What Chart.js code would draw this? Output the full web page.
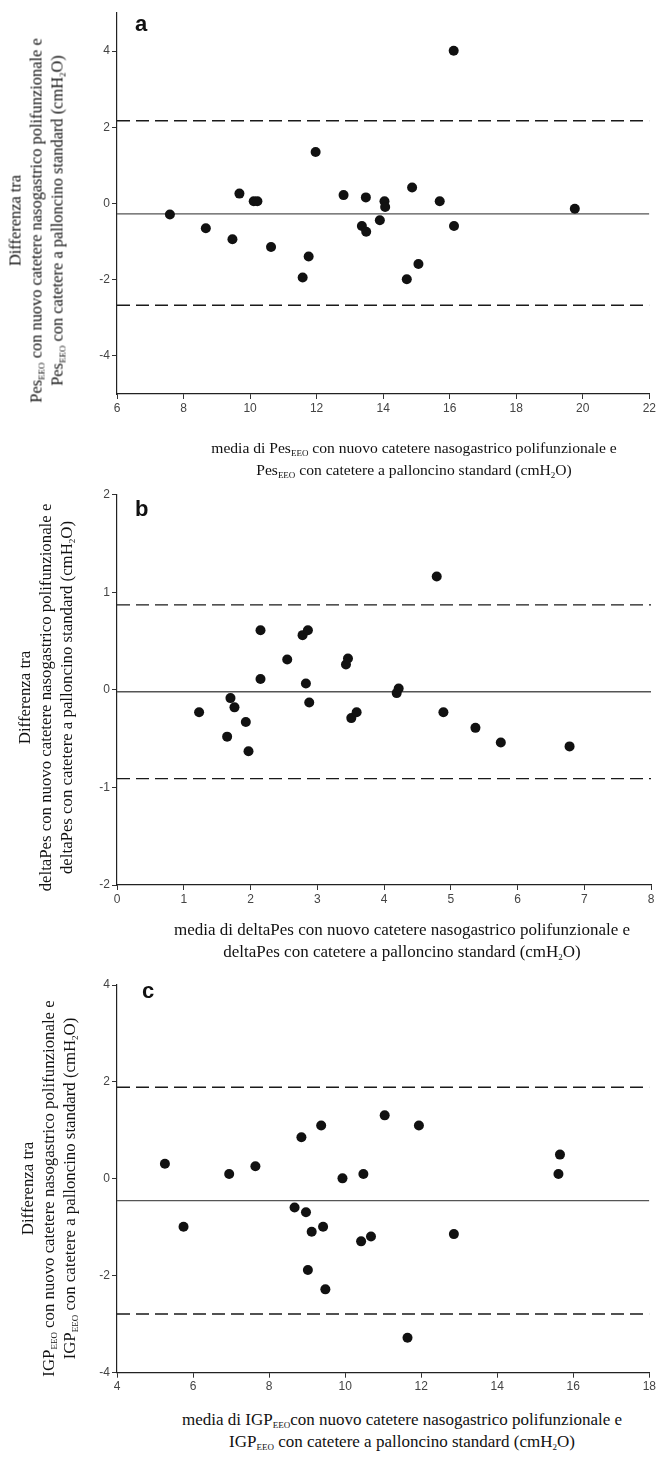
<!DOCTYPE html>
<html>
<head>
<meta charset="utf-8">
<script src="https://cdn.jsdelivr.net/npm/chart.js@4.4.1/dist/chart.umd.min.js"></script>
<style>
  body { margin: 0; background: #fff; }
  #page { position: relative; width: 658px; height: 1457px; overflow: hidden; }
  canvas { position: absolute; }
  .ttl { position: absolute; font-family: "Liberation Serif", "Times New Roman", serif;
         font-size: 16px; color: #111; text-align: center; white-space: nowrap; }
  .ttl div { line-height: 21px; height: 21px; }
  .xt div { line-height: 22px; height: 22px; }
  .ttl sub { font-size: 9px; vertical-align: -3px; line-height: 0; }
  .rot { transform: rotate(-90deg); }
  .letter { position: absolute; font-family: "Liberation Sans", Arial, sans-serif;
            font-weight: bold; font-size: 22px; color: #111; }
</style>
</head>
<body>
<div id="page">
  <canvas id="chartA" width="598" height="420" style="left:60px;top:0px"></canvas>
  <canvas id="chartB" width="598" height="430" style="left:60px;top:480px"></canvas>
  <canvas id="chartC" width="598" height="430" style="left:60px;top:970px"></canvas>

  <div class="letter" style="left:135px;top:11px">a</div>
  <div class="letter" style="left:135px;top:496px">b</div>
  <div class="letter" style="left:142px;top:978px">c</div>

  <!-- y titles -->
  <div class="ttl rot" style="left:-174px;top:188.5px;width:420px;height:63px;font-size:16.4px">
    <div>Differenza tra</div>
    <div>Pes<sub>EEO</sub> con nuovo catetere nasogastrico polifunzionale e</div>
    <div>Pes<sub>EEO</sub> con catetere a palloncino standard (cmH<sub>2</sub>O)</div>
  </div>
  <div class="ttl rot" style="left:-165px;top:665.5px;width:420px;height:63px;font-size:16.8px">
    <div>Differenza tra</div>
    <div>deltaPes con nuovo catetere nasogastrico polifunzionale e</div>
    <div>deltaPes con catetere a palloncino standard (cmH<sub>2</sub>O)</div>
  </div>
  <div class="ttl rot" style="left:-162px;top:1156.5px;width:420px;height:63px;font-size:16.8px">
    <div>Differenza tra</div>
    <div>IGP<sub>EEO</sub> con nuovo catetere nasogastrico polifunzionale e</div>
    <div>IGP<sub>EEO</sub> con catetere a palloncino standard (cmH<sub>2</sub>O)</div>
  </div>

  <!-- x titles -->
  <div class="ttl xt" style="left:164px;top:437px;width:500px;font-size:15.6px">
    <div>media di Pes<sub>EEO</sub> con nuovo catetere nasogastrico polifunzionale e</div>
    <div>Pes<sub>EEO</sub> con catetere a palloncino standard (cmH<sub>2</sub>O)</div>
  </div>
  <div class="ttl xt" style="left:152px;top:919px;width:500px;font-size:17px">
    <div>media di deltaPes con nuovo catetere nasogastrico polifunzionale e</div>
    <div>deltaPes con catetere a palloncino standard (cmH<sub>2</sub>O)</div>
  </div>
  <div class="ttl xt" style="left:152px;top:1409px;width:500px;font-size:17px">
    <div>media di IGP<sub>EEO</sub>con nuovo catetere nasogastrico polifunzionale e</div>
    <div>IGP<sub>EEO</sub> con catetere a palloncino standard (cmH<sub>2</sub>O)</div>
  </div>
</div>

<script>
// panel a - Pes EEO
const meanA = [7.59, 8.67, 9.47, 9.68, 10.11, 10.22, 10.63, 11.58, 11.76, 11.97, 12.81, 13.36,
  13.48, 13.49, 13.90, 14.04, 14.06, 14.71, 14.87, 15.06, 15.70, 16.12, 16.13, 19.76];
const diffA = [-0.29, -0.65, -0.94, 0.26, 0.06, 0.06, -1.14, -1.94, -1.39, 1.35, 0.22, -0.59,
  0.16, -0.74, -0.44, 0.06, -0.09, -1.99, 0.42, -1.59, 0.06, 4.01, -0.59, -0.14];
const biasA = -0.27;
const limitsA = [2.17, -2.67];
const xTicksA = [6, 8, 10, 12, 14, 16, 18, 20, 22];
const yTicksA = [-4, -2, 0, 2, 4];

// panel b - deltaPes
const meanB = [1.23, 1.65, 1.70, 1.76, 1.93, 1.97, 2.15, 2.15, 2.55, 2.78, 2.86, 2.83,
  2.88, 3.43, 3.46, 3.51, 3.59, 4.19, 4.22, 4.79, 4.89, 5.37, 5.75, 6.78];
const diffB = [-0.23, -0.48, -0.085, -0.18, -0.33, -0.63, 0.61, 0.11, 0.31, 0.56, 0.61, 0.065,
  -0.13, 0.26, 0.32, -0.29, -0.23, -0.034, 0.014, 1.16, -0.23, -0.39, -0.54, -0.58];
const biasB = -0.02;
const limitsB = [0.87, -0.91];
const xTicksB = [0, 1, 2, 3, 4, 5, 6, 7, 8];
const yTicksB = [-2, -1, 0, 1, 2];

// panel c - IGP EEO
const meanC = [5.26, 5.75, 6.95, 7.64, 8.67, 8.85, 8.97, 9.02, 9.12, 9.37, 9.42, 9.48,
  9.93, 10.42, 10.48, 10.68, 11.04, 11.64, 11.94, 12.86, 15.61, 15.65];
const diffC = [0.31, -0.99, 0.10, 0.26, -0.59, 0.86, -0.69, -1.88, -1.09, 1.10, -0.99, -2.28,
  0.01, -1.29, 0.10, -1.19, 1.31, -3.28, 1.10, -1.14, 0.10, 0.50];
const biasC = -0.45;
const limitsC = [1.89, -2.79];
const xTicksC = [4, 6, 8, 10, 12, 14, 16, 18];
const yTicksC = [-4, -2, 0, 2, 4];

function hline(y, x0, x1, dashed) {
  return {
    type: "line",
    data: [{ x: x0, y: y }, { x: x1, y: y }],
    borderColor: dashed ? "#1a1a1a" : "#555",
    borderWidth: dashed ? 1.4 : 1.3,
    borderDash: dashed ? [13, 6] : [],
    pointRadius: 0,
    order: 2,
  };
}

function makePanel(id, xs, ys, bias, limits, xTicks, yTicks, yMin, yMax, padTop, xHeight) {
  const x0 = xTicks[0], x1 = xTicks[xTicks.length - 1];
  const axis = (ticks) => ({
    grid: { display: true, drawOnChartArea: false, drawTicks: true, tickLength: 5, color: "#333" },
    border: { display: true, color: "#222", width: 1.2 },
    afterBuildTicks: (s) => { s.ticks = ticks.map((v) => ({ value: v })); },
  });
  const tickFont = { family: "'Liberation Sans Narrow', 'Liberation Sans', Arial, sans-serif", size: 12 };

  new Chart(document.getElementById(id), {
    type: "scatter",
    data: {
      datasets: [
        {
          data: xs.map((x, i) => ({ x: x, y: ys[i] })),
          backgroundColor: "#111",
          borderWidth: 0,
          pointRadius: 5,
          order: 1,
        },
        hline(bias, x0, x1, false),
        hline(limits[0], x0, x1, true),
        hline(limits[1], x0, x1, true),
      ],
    },
    options: {
      responsive: false,
      animation: false,
      devicePixelRatio: 1,
      layout: { padding: { top: padTop, right: 7, left: 0, bottom: 0 } },
      plugins: { legend: { display: false }, tooltip: { enabled: false } },
      scales: {
        x: Object.assign(axis(xTicks), {
          type: "linear", min: x0, max: x1,
          ticks: { font: tickFont, color: "#444", padding: 2, maxRotation: 0 },
          afterFit: (s) => { s.height = xHeight; },
        }),
        y: Object.assign(axis(yTicks), {
          type: "linear", min: yMin, max: yMax,
          ticks: { font: tickFont, color: "#444", padding: 2 },
          afterFit: (s) => { s.width = 57; },
        }),
      },
    },
  });
}

makePanel("chartA", meanA, diffA, biasA, limitsA, xTicksA, yTicksA, -5, 5, 13, 26);
makePanel("chartB", meanB, diffB, biasB, limitsB, xTicksB, yTicksB, -2, 2, 14.6, 25);
makePanel("chartC", meanC, diffC, biasC, limitsC, xTicksC, yTicksC, -4, 4, 15, 27.3);
</script>
</body>
</html>
